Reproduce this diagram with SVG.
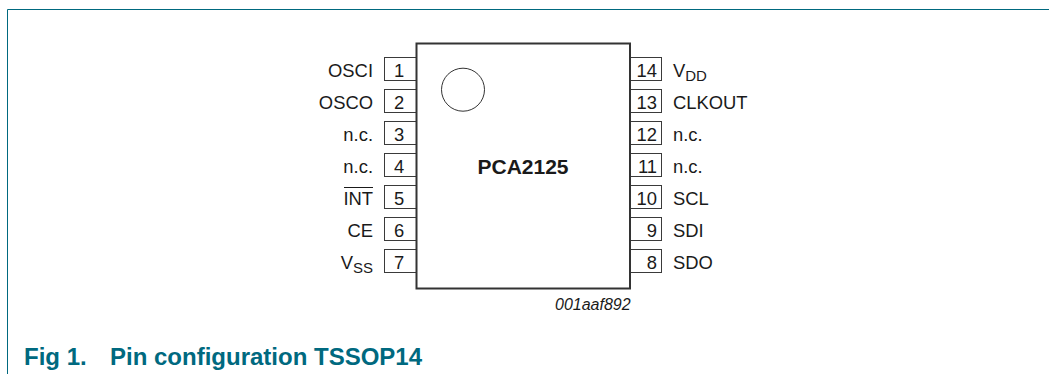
<svg xmlns="http://www.w3.org/2000/svg" width="1049" height="374" viewBox="0 0 1049 374">
<style>
text{font-family:"Liberation Sans",Arial,sans-serif;font-size:18.4px;fill:#1a1a1a}
.l{text-anchor:end}
.n{text-anchor:middle}
.sub{font-size:15px}
.p{fill:#fff;stroke:#3a3a3a;stroke-width:1}
.cap{font-size:24px;font-weight:bold;fill:#00697f}
</style>
<rect width="1049" height="374" fill="#fff"/>
<g id="frame" fill="none" stroke="#00697f" stroke-width="1"><path d="M7.5 374V9.5H1049"/></g>
<g id="connectors">
<rect class="p" x="384.5" y="57.5" width="32" height="23"/>
<rect class="p" x="384.5" y="89.5" width="32" height="23"/>
<rect class="p" x="384.5" y="121.5" width="32" height="23"/>
<rect class="p" x="384.5" y="153.5" width="32" height="23"/>
<rect class="p" x="384.5" y="185.5" width="32" height="23"/>
<rect class="p" x="384.5" y="217.5" width="32" height="23"/>
<rect class="p" x="384.5" y="249.5" width="32" height="23"/>
<rect class="p" x="629.5" y="57.5" width="32" height="23"/>
<rect class="p" x="629.5" y="89.5" width="32" height="23"/>
<rect class="p" x="629.5" y="121.5" width="32" height="23"/>
<rect class="p" x="629.5" y="153.5" width="32" height="23"/>
<rect class="p" x="629.5" y="185.5" width="32" height="23"/>
<rect class="p" x="629.5" y="217.5" width="32" height="23"/>
<rect class="p" x="629.5" y="249.5" width="32" height="23"/>
</g>
<g id="chip">
<rect x="416.5" y="43.5" width="213.5" height="245" fill="#fff" stroke="#333" stroke-width="2"/>
<circle cx="463" cy="89.7" r="21.5" fill="#fff" stroke="#333" stroke-width="1"/>
<text x="523" y="174" text-anchor="middle" font-weight="bold" style="font-size:21px">PCA2125</text>
</g>
<g id="pins-left">
<text class="n" x="399" y="77">1</text><text class="l" x="373" y="77">OSCI</text>
<text class="n" x="399" y="109">2</text><text class="l" x="373" y="109">OSCO</text>
<text class="n" x="399" y="141">3</text><text class="l" x="373" y="141">n.c.</text>
<text class="n" x="399" y="173">4</text><text class="l" x="373" y="173">n.c.</text>
<text class="n" x="399" y="205">5</text><text class="l" x="373" y="205">INT</text>
<path d="M344 187.5H373" stroke="#1a1a1a" stroke-width="1" fill="none"/>
<text class="n" x="399" y="237">6</text><text class="l" x="373" y="237">CE</text>
<text class="n" x="399" y="269">7</text><text class="l" x="373" y="269">V<tspan class="sub" dy="4">SS</tspan></text>
</g>
<g id="pins-right">
<text class="l" x="657" y="77">14</text><text x="673" y="77">V<tspan class="sub" dy="4">DD</tspan></text>
<text class="l" x="657" y="109">13</text><text x="673" y="109">CLKOUT</text>
<text class="l" x="657" y="141">12</text><text x="673" y="141">n.c.</text>
<text class="l" x="657" y="173">11</text><text x="673" y="173">n.c.</text>
<text class="l" x="657" y="205">10</text><text x="673" y="205">SCL</text>
<text class="l" x="657" y="237">9</text><text x="673" y="237">SDI</text>
<text class="l" x="657" y="269">8</text><text x="673" y="269">SDO</text>
</g>
<text x="555" y="310" font-style="italic" style="font-size:16px">001aaf892</text>
<text class="cap" x="24" y="365">Fig 1.</text>
<text class="cap" x="110" y="365">Pin configuration TSSOP14</text>
</svg>
